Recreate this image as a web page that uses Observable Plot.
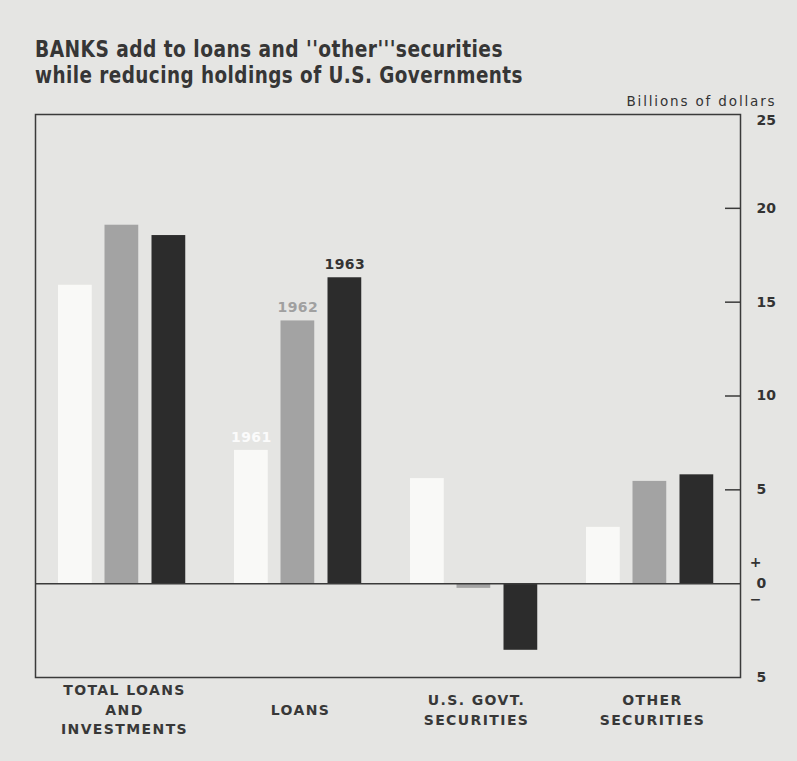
<!DOCTYPE html>
<html><head><meta charset="utf-8">
<script src="https://cdn.jsdelivr.net/npm/d3@7"></script>
<script src="https://cdn.jsdelivr.net/npm/@observablehq/plot@0.6"></script>
<style>
body{margin:0;background:#e5e5e3;width:797px;height:761px;overflow:hidden;font-family:"DejaVu Sans",sans-serif;color:#333}
#title{position:relative;height:95px}
#title div{position:absolute;left:35px;font-family:"DejaVu Sans Condensed","Liberation Sans Narrow","DejaVu Sans",sans-serif;font-weight:bold;font-size:23px;line-height:23px;white-space:nowrap;transform-origin:0 0;color:#363636;letter-spacing:0.5px}
#chart svg{display:block}
</style></head><body>
<div id="title">
  <div id="t1" style="top:38px">BANKS add to loans and ''other'''securities</div>
  <div id="t2" style="top:64px">while reducing holdings of U.S. Governments</div>
</div>
<div id="chart"></div>
<script>
const categories = ["TOTAL LOANS\nAND\nINVESTMENTS", "LOANS", "U.S. GOVT.\nSECURITIES", "OTHER\nSECURITIES"];
const years = ["1961", "1962", "1963"];
const values1961 = [15.9, 7.1, 5.6, 3.0];
const values1962 = [19.1, 14.0, -0.25, 5.45];
const values1963 = [18.55, 16.3, -3.55, 5.8];
const yTicks = [20, 15, 10, 5, 0, -5];
const yTopTick = [25];
const yTickMarks = [20, 15, 10, 5];
const yLabel = "Billions of dollars";
const yearColors = ["#f9f9f7", "#a3a3a3", "#2c2c2c"];
const yearLabelColors = ["#fbfbfb", "#a0a0a0", "#333333"];

// scale the title lines to match the reference widths
[["t1", 468], ["t2", 488]].forEach(([id, w]) => {
  const el = document.getElementById(id);
  const actual = el.getBoundingClientRect().width;
  el.style.transform = `scaleX(${w / actual})`;
});

const series = [values1961, values1962, values1963];
const rows = series.map((vals, k) => categories.map((c, i) => ({cat: c, year: years[k], value: vals[i]})));
const band = (797 - 35 - 57) / categories.length;
const barW = 34;
const insetsL = [22, 68.5, 115.5];

const marks = [];
rows.forEach((data, k) => {
  marks.push(Plot.barY(data, {
    x: "cat", y: "value", fill: yearColors[k],
    insetLeft: insetsL[k], insetRight: band - insetsL[k] - barW
  }));
});
// year labels on the LOANS group
rows.forEach((data, k) => {
  marks.push(Plot.text(data.filter(d => d.cat === "LOANS"), {
    x: "cat", y: "value", text: "year", dx: insetsL[k] + barW / 2 - band / 2, dy: -13,
    fill: yearLabelColors[k], fontSize: 14, fontWeight: "bold"
  }));
});
const tickText = {frameAnchor: "right", dx: 16, textAnchor: "start", fontSize: 14, fontWeight: "bold", fill: "#333"};
marks.push(
  Plot.ruleY([0], {stroke: "#3a3a3a", strokeWidth: 1.5}),
  Plot.ruleY(yTickMarks, {y: d => d, insetLeft: band * 4 - 15, stroke: "#3a3a3a", strokeWidth: 1.5}),
  Plot.frame({stroke: "#3a3a3a", strokeWidth: 1.5}),
  Plot.text(yTicks, {y: d => d, text: d => String(Math.abs(d)), ...tickText}),
  Plot.text(yTopTick, {y: d => d, text: d => String(d), dy: 6, ...tickText}),
  Plot.text(["+"], {y: () => 0, text: d => d, frameAnchor: "right", dx: 21, dy: -21, fontSize: 14, fontWeight: "bold", fill: "#333"}),
  Plot.text(["\u2212"], {y: () => 0, text: d => d, frameAnchor: "right", dx: 21, dy: 16, fontSize: 14, fontWeight: "bold", fill: "#333"}),
  Plot.text([yLabel], {text: d => d, frameAnchor: "top-right", dx: 36, dy: -9, textAnchor: "end", lineAnchor: "bottom",
    fontSize: 13.5, fill: "#333"}),
  Plot.text(categories, {x: d => d, text: d => d, frameAnchor: "bottom", lineAnchor: "middle", dy: 31,
    lineHeight: 1.4, fontSize: 14, fontWeight: "bold", fill: "#383838"})
);

const chart = Plot.plot({
  width: 797, height: 666,
  marginTop: 19, marginBottom: 84, marginLeft: 35, marginRight: 57,
  style: {background: "transparent", fontFamily: "DejaVu Sans, sans-serif", overflow: "visible"},
  x: {domain: categories, padding: 0, axis: null},
  y: {domain: [-5, 25], axis: null},
  marks
});
const catLines = new Set(categories.flatMap(c => c.split("\n")));
d3.select(chart).selectAll("text, tspan").each(function() {
  const t = this.textContent;
  if (this.tagName === "tspan" || !this.querySelector("tspan")) {
    if (catLines.has(t)) d3.select(this).style("letter-spacing", "1.4px");
    else if (years.includes(t)) d3.select(this).style("letter-spacing", "0.5px");
    else if (t === yLabel) d3.select(this).style("letter-spacing", "1.85px");
  }
});
document.getElementById("chart").appendChild(chart);
</script>
</body></html>
